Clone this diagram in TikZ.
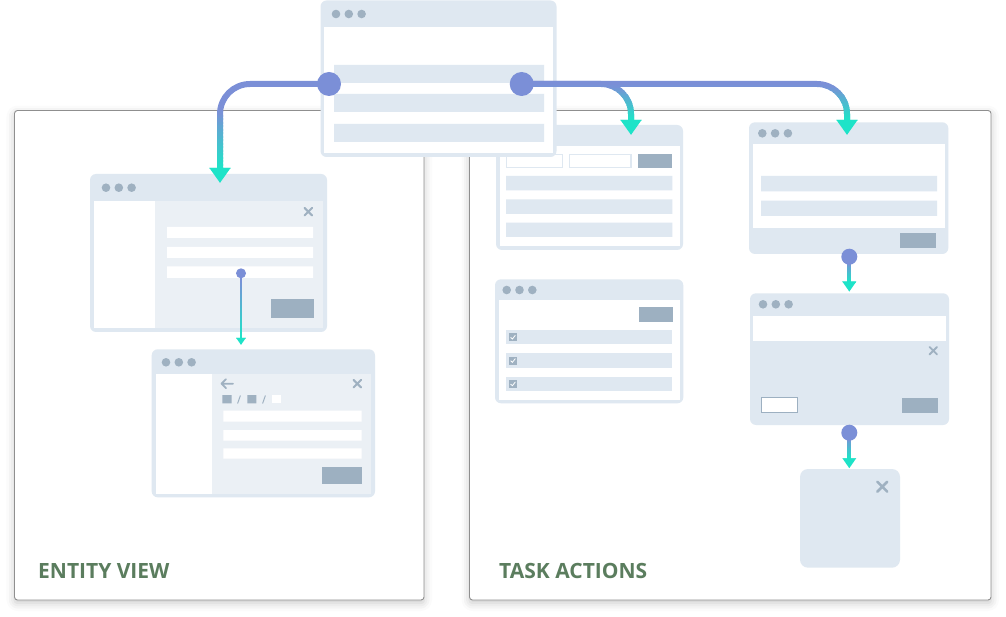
\documentclass[tikz,border=0pt]{standalone}
\usepackage{fontspec}
\newfontfamily\labelfont{Open Sans}
\usetikzlibrary{arrows.meta,fit,shadows.blur}

\definecolor{uiframe}{HTML}{DFE8F1}
\definecolor{uipane}{HTML}{EBF0F5}
\definecolor{uiknob}{HTML}{9FB1C1}
\definecolor{uibtn}{HTML}{9DB0C1}
\definecolor{cpurple}{HTML}{7B8FD7}
\definecolor{cteal}{HTML}{1EE3C8}
\definecolor{labelgreen}{HTML}{5B7D5E}
\definecolor{panelline}{HTML}{8F8F8F}

\tikzset{
  panel/.style={draw=panelline, line width=0.9pt, fill=white, rounded corners=3pt,
    inner sep=0pt, outer sep=0pt,
    blur shadow={shadow xshift=0pt, shadow yshift=-3pt, shadow blur radius=8pt, shadow opacity=22}},
  winbox/.style={fill=uiframe, rounded corners=6pt, inner sep=0pt, outer sep=0pt},
  knobdot/.style={circle, fill=uiknob, minimum size=8.6pt, inner sep=0pt},
  closemark/.style={draw=uiknob, line width=2pt, line cap=round},
  bigconn/.style={line width=6pt, rounded corners=30pt, -{Triangle[width=20pt,length=15pt]}},
  midconn/.style={line width=4pt, -{Triangle[width=13pt,length=10pt]}},
  thinconn/.style={line width=2.5pt, -{Triangle[width=9pt,length=7pt]}},
  bigdot/.style={circle, fill=cpurple, minimum size=24pt, inner sep=0pt},
  middot/.style={circle, fill=cpurple, minimum size=16pt, inner sep=0pt},
  smalldot/.style={circle, fill=cpurple, minimum size=10pt, inner sep=0pt},
  sectionlabel/.style={anchor=base west, inner sep=0pt, text=labelgreen,
    font=\labelfont\bfseries\fontsize{21}{21}\selectfont}
}

% window frame with a rounded outline
\newcommand\uiframe[5]{\node[winbox, fit={(#2,#3) (#4,#5)}] (#1) {};}
% the three title-bar knobs
\newcommand\knobs[2]{%
  \fill[uiknob] (#1,#2) circle (4.3) (#1+12.8,#2) circle (4.3) (#1+25.6,#2) circle (4.3);}
% a small close cross
\newcommand\closex[3]{\draw[closemark, line width=#3] (#1-3.8,#2-3.8) -- (#1+3.8,#2+3.8) (#1-3.8,#2+3.8) -- (#1+3.8,#2-3.8);}
% connector whose colour blends from purple to teal between two heights
\newcommand\fadeconn[4]{%
  \begin{scope}
    \clip (-20,-40) rectangle (1030,#3);
    \draw[#1, draw=cpurple] #2;
  \end{scope}
  \foreach \k in {0,...,15}{%
    \pgfmathsetmacro\ya{#3+(#4-#3)*\k/16}%
    \pgfmathsetmacro\yb{#3+(#4-#3)*(\k+1)/16+0.6}%
    \pgfmathtruncatemacro\mixp{100*(\k+0.5)/16}%
    \begin{scope}
      \clip (-20,\ya) rectangle (1030,\yb);
      \draw[#1, draw=cteal!\mixp!cpurple] #2;
    \end{scope}}
  \begin{scope}
    \clip (-20,#4) rectangle (1030,660);
    \draw[#1, draw=cteal] #2;
  \end{scope}}

\begin{document}
\begin{tikzpicture}[x=1pt,y=-1pt]
\useasboundingbox (0,0) rectangle (1006,617);

% ---- the two section panels
\node[panel, fit={(14.5,110.5) (424,600)}] (entitypanel) {};
\node[panel, fit={(469.5,110.5) (991,600)}] (taskpanel) {};
\node[sectionlabel] (entitylabel) at (38,578) {ENTITY VIEW};
\node[sectionlabel] (tasklabel) at (499,578) {TASK ACTIONS};

% ---- entity view: edit form
\uiframe{editwin}{90}{174}{327}{332}
\fill[uipane] (94,200.7) rectangle (323,328.3);
\fill[white] (94,200.7) rectangle (155,328.3);
\knobs{106}{187.7}
\closex{308.3}{211.7}{2pt}
\fill[white] (167,227) rectangle (313,238) (167,247) rectangle (313,258) (167,266.5) rectangle (313,278);
\fill[uibtn] (271,299.5) rectangle (313.5,318);

% ---- entity view: nested detail form
\uiframe{detailwin}{151.7}{349.3}{375}{497.3}
\fill[uipane] (155.5,374) rectangle (371.3,493.7);
\fill[white] (155.5,374) rectangle (211.7,493.7);
\knobs{166}{362.3}
\closex{357.3}{383.7}{2pt}
\draw[uiknob, line width=1.8pt, line cap=round, line join=round]
  (233,383.7) -- (221.5,383.7) (226,379.2) -- (221.5,383.7) -- (226,388.2);
\fill[uiknob] (222.3,395) rectangle (231.7,403.3) (247.3,395) rectangle (256.3,403.3);
\fill[white] (272.3,395) rectangle (281,403.3);
\draw[uiknob, line width=1pt] (237.6,403.5) -- (240.4,395.5) (262.6,403.5) -- (265.4,395.5);
\fill[white] (223.3,410.7) rectangle (361.7,421.7) (223.3,430) rectangle (361.7,440.5) (223.3,448.3) rectangle (361.7,458.7);
\fill[uibtn] (322,466.7) rectangle (362.3,484);

% ---- task actions: filter list
\uiframe{listwin}{496}{125}{683}{250}
\fill[white] (499.5,145.7) rectangle (679.5,246.5);
\knobs{512}{135.3}
\filldraw[fill=white, draw=uiframe, line width=1.5pt] (506.7,154.3) rectangle (562.3,167.7) (569.3,154.3) rectangle (631,167.7);
\fill[uibtn] (637.7,154.3) rectangle (671.7,167.7);
\fill[uiframe] (506,176) rectangle (672.3,190.3) (506,199.3) rectangle (672.3,214) (506,222.7) rectangle (672.3,237);

% ---- task actions: checklist
\uiframe{checkwin}{495}{279.3}{683.3}{403.3}
\fill[white] (498.5,300) rectangle (679.8,399.8);
\knobs{506.7}{290}
\fill[uibtn] (639,306.7) rectangle (673,321.7);
\foreach \ry in {330,353.3,376.7}{
  \fill[uiframe] (506,\ry) rectangle (672.3,\ry+14.3);
  \fill[uiknob] (509,\ry+3.2) rectangle (517,\ry+11.2);
  \draw[white, line width=0.8pt] (510.6,\ry+7.4) -- (512.4,\ry+9) -- (515.4,\ry+5.2);
}

% ---- task actions: form with footer
\uiframe{formwin}{749}{122.3}{948.3}{254}
\fill[white] (752.5,144.3) rectangle (944.8,227.7);
\knobs{762.3}{133.3}
\fill[uiframe] (761,176) rectangle (937,191.3) (761,200.7) rectangle (937,216);
\fill[uibtn] (900,233.3) rectangle (935.7,248.3);

% ---- task actions: confirmation dialog
\uiframe{confirmwin}{750}{293.3}{949}{425}
\fill[white] (753.3,315.7) rectangle (946,340.7);
\knobs{763}{304.3}
\closex{933.3}{350.7}{1.8pt}
\filldraw[fill=white, draw=uibtn, line width=1.2pt] (761.7,397.7) rectangle (797.3,412.7);
\fill[uibtn] (901.7,397.7) rectangle (937.7,412.7);

% ---- task actions: result box
\node[winbox, rounded corners=8pt, fit={(800,469) (900,567.7)}] (resultbox) {};
\draw[closemark, line width=2.6pt] (877.3,481.7) -- (887.3,491.7) (877.3,491.7) -- (887.3,481.7);

% ---- main page
\uiframe{mainwin}{320.5}{0.5}{556.5}{157}
\fill[white] (324,27) rectangle (553,153.5);
\knobs{336}{14}
\fill[uiframe] (334,65) rectangle (544,83) (334,94) rectangle (544,112) (334,124) rectangle (544,142);

% ---- connectors
\coordinate (srcL) at (329,84);
\coordinate (srcR) at (521.7,84);
\coordinate (tipEdit) at (220,183);
\coordinate (tipList) at (631,135);
\coordinate (tipForm) at (847,135);
\coordinate (srcEdit) at (241,273.3);
\coordinate (tipDetail) at (241,345);
\coordinate (srcForm) at (849.3,256.7);
\coordinate (tipConfirm) at (849.3,291.7);
\coordinate (srcConfirm) at (849.3,432.7);
\coordinate (tipResult) at (849.3,468.3);

\fadeconn{bigconn}{(srcR) -- (srcR -| tipForm) -- (tipForm)}{86}{120}
\fadeconn{bigconn}{(srcR) -- (srcR -| tipList) -- (tipList)}{86}{120}
\fadeconn{bigconn}{(srcL) -- (srcL -| tipEdit) -- (tipEdit)}{112}{168}
\fadeconn{thinconn}{(srcEdit) -- (tipDetail)}{280}{338}
\fadeconn{midconn}{(srcForm) -- (tipConfirm)}{263}{282}
\fadeconn{midconn}{(srcConfirm) -- (tipResult)}{439}{458}

\node[bigdot] (dotL) at (srcL) {};
\node[bigdot] (dotR) at (srcR) {};
\node[smalldot] (dotEdit) at (srcEdit) {};
\node[middot] (dotForm) at (srcForm) {};
\node[middot] (dotConfirm) at (srcConfirm) {};
\end{tikzpicture}
\end{document}
